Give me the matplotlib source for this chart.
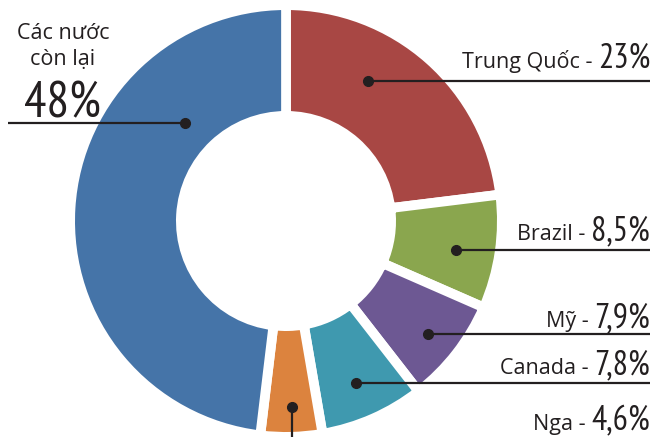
import matplotlib
matplotlib.use('Agg')
import matplotlib.pyplot as plt

countries = ['Trung Quốc', 'Brazil', 'Mỹ', 'Canada', 'Nga', 'Các nước\ncòn lại']
shares = [23, 8.5, 7.9, 7.8, 4.6, 48]
share_labels = ['23%', '8,5%', '7,9%', '7,8%', '4,6%', '48%']
colors = ['#A84744', '#8AA64E', '#6D5893', '#3F99AF', '#DC833E', '#4574A8']

W, H = 652, 437
ink = '#231F20'
label_font = ['Open Sans', 'DejaVu Sans']
num_font = ['PT Sans Narrow', 'Archivo Narrow', 'Asap Condensed', 'DejaVu Sans']

fig = plt.figure(figsize=(W / 100, H / 100), dpi=100)
ax = fig.add_axes([0, 0, 1, 1])

# donut, pixel units (y up)
cx, cy = 286, H - 221
r_out, r_in = 211, 110
gap = 7  # white edge, pt
gap_px = gap * 100 / 72
ax.pie(shares, colors=colors, startangle=90, counterclock=False,
       radius=r_out + gap_px / 2, center=(cx, cy),
       wedgeprops=dict(width=r_out - r_in + gap_px, edgecolor='white', linewidth=gap))
ax.set_xlim(0, W)
ax.set_ylim(0, H)
ax.axis('off')

# (dot x, line y, text baseline y) in pixels from the top
right_labels = [(368, 81, 68), (456, 250, 240), (428, 334, 327), (356, 383, 374)]

def y(p):
    return H - p

fig.canvas.draw()
renderer = fig.canvas.get_renderer()

def two_part(name, num, xr, yb, nsize=24.5):
    t = ax.text(xr, y(yb), num, ha='right', va='baseline', fontsize=nsize,
                family=num_font, color=ink)
    bb = t.get_window_extent(renderer)
    ax.text(bb.x0, y(yb), name + ' - ', ha='right', va='baseline', fontsize=15.5,
            family=label_font, color=ink)

for i, (dx, ly, tb) in enumerate(right_labels):
    ax.plot([dx, 650], [y(ly), y(ly)], color=ink, lw=1.6, solid_capstyle='butt')
    ax.plot(dx, y(ly), 'o', color=ink, ms=7)
    two_part(countries[i], share_labels[i], 650, tb)

# Nga: vertical leader
ax.plot([292, 292], [y(407), y(440)], color=ink, lw=1.6, clip_on=False)
ax.plot(292, y(407), 'o', color=ink, ms=7)
two_part(countries[4], share_labels[4], 650, 430)

# Các nước còn lại
ax.plot([8, 185], [y(123), y(123)], color=ink, lw=1.6, solid_capstyle='butt')
ax.plot(185, y(123), 'o', color=ink, ms=7)
ax.text(63, y(65), countries[5], ha='center', va='baseline', fontsize=15.5,
        family=label_font, color=ink, linespacing=1.3)
ax.text(62, y(117), share_labels[5], ha='center', va='baseline', fontsize=36,
        family=num_font, color=ink)

fig.savefig('out.png', dpi=100)
